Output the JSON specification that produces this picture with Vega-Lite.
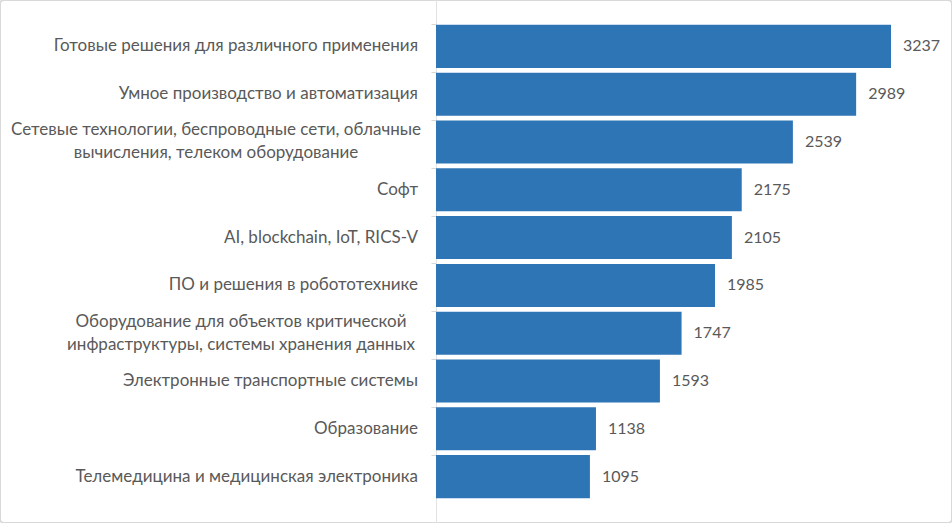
{
  "$schema": "https://vega.github.io/schema/vega-lite/v6.json",
  "width": 952,
  "height": 523,
  "autosize": {"type": "fit", "contains": "padding"},
  "padding": 0,
  "background": "white",
  "config": {
    "view": {"stroke": "#d9d9d9", "strokeWidth": 2, "cornerRadius": 4},
    "text": {"font": "Lato", "fontSize": 17, "color": "#595959"}
  },
  "data": {
    "values": [
      {"name": "Готовые решения для различного применения", "value": 3237, "kind": "one"},
      {"name": "Умное производство и автоматизация", "value": 2989, "kind": "one"},
      {"name": "Сетевые технологии, беспроводные сети, облачные\nвычисления, телеком оборудование", "value": 2539, "kind": "net"},
      {"name": "Софт ", "value": 2175, "kind": "one"},
      {"name": "AI, blockchain, IoT, RICS-V", "value": 2105, "kind": "one"},
      {"name": "ПО и решения в робототехнике", "value": 1985, "kind": "one"},
      {"name": "Оборудование для объектов критической \nинфраструктуры, системы хранения данных", "value": 1747, "kind": "infra"},
      {"name": "Электронные транспортные системы", "value": 1593, "kind": "one"},
      {"name": "Образование", "value": 1138, "kind": "one"},
      {"name": "Телемедицина и медицинская электроника", "value": 1095, "kind": "one"}
    ]
  },
  "encoding": {
    "y": {
      "field": "name",
      "type": "nominal",
      "sort": null,
      "scale": {"paddingInner": 0.1, "paddingOuter": 0.52},
      "axis": {
        "title": null,
        "labels": false,
        "offset": -436,
        "bandPosition": 0,
        "domainColor": "#e3e3e3",
        "tickColor": "#d9d9d9",
        "tickSize": 5
      }
    }
  },
  "layer": [
    {
      "mark": {"type": "bar", "color": "#2E75B6"},
      "encoding": {
        "x": {
          "field": "value",
          "type": "quantitative",
          "scale": {"domain": [-3102, 3671], "nice": false, "zero": false},
          "axis": null
        }
      }
    },
    {
      "mark": {"type": "text", "align": "left", "baseline": "middle", "dx": 12, "fontSize": 16},
      "encoding": {
        "x": {"field": "value", "type": "quantitative"},
        "text": {"field": "value", "type": "quantitative", "format": "d"}
      }
    },
    {
      "transform": [{"filter": "datum.kind === 'one'"}],
      "mark": {"type": "text", "align": "right", "baseline": "middle", "dx": -18},
      "encoding": {
        "x": {"datum": 0},
        "text": {"field": "name"}
      }
    },
    {
      "transform": [{"filter": "datum.kind === 'net'"}],
      "mark": {"type": "text", "align": "center", "baseline": "middle", "dx": -220, "dy": -11.5, "lineBreak": "\n", "lineHeight": 23},
      "encoding": {
        "x": {"datum": 0},
        "text": {"field": "name"}
      }
    },
    {
      "transform": [{"filter": "datum.kind === 'infra'"}],
      "mark": {"type": "text", "align": "center", "baseline": "middle", "dx": -195, "dy": -11.5, "lineBreak": "\n", "lineHeight": 23},
      "encoding": {
        "x": {"datum": 0},
        "text": {"field": "name"}
      }
    }
  ]
}
